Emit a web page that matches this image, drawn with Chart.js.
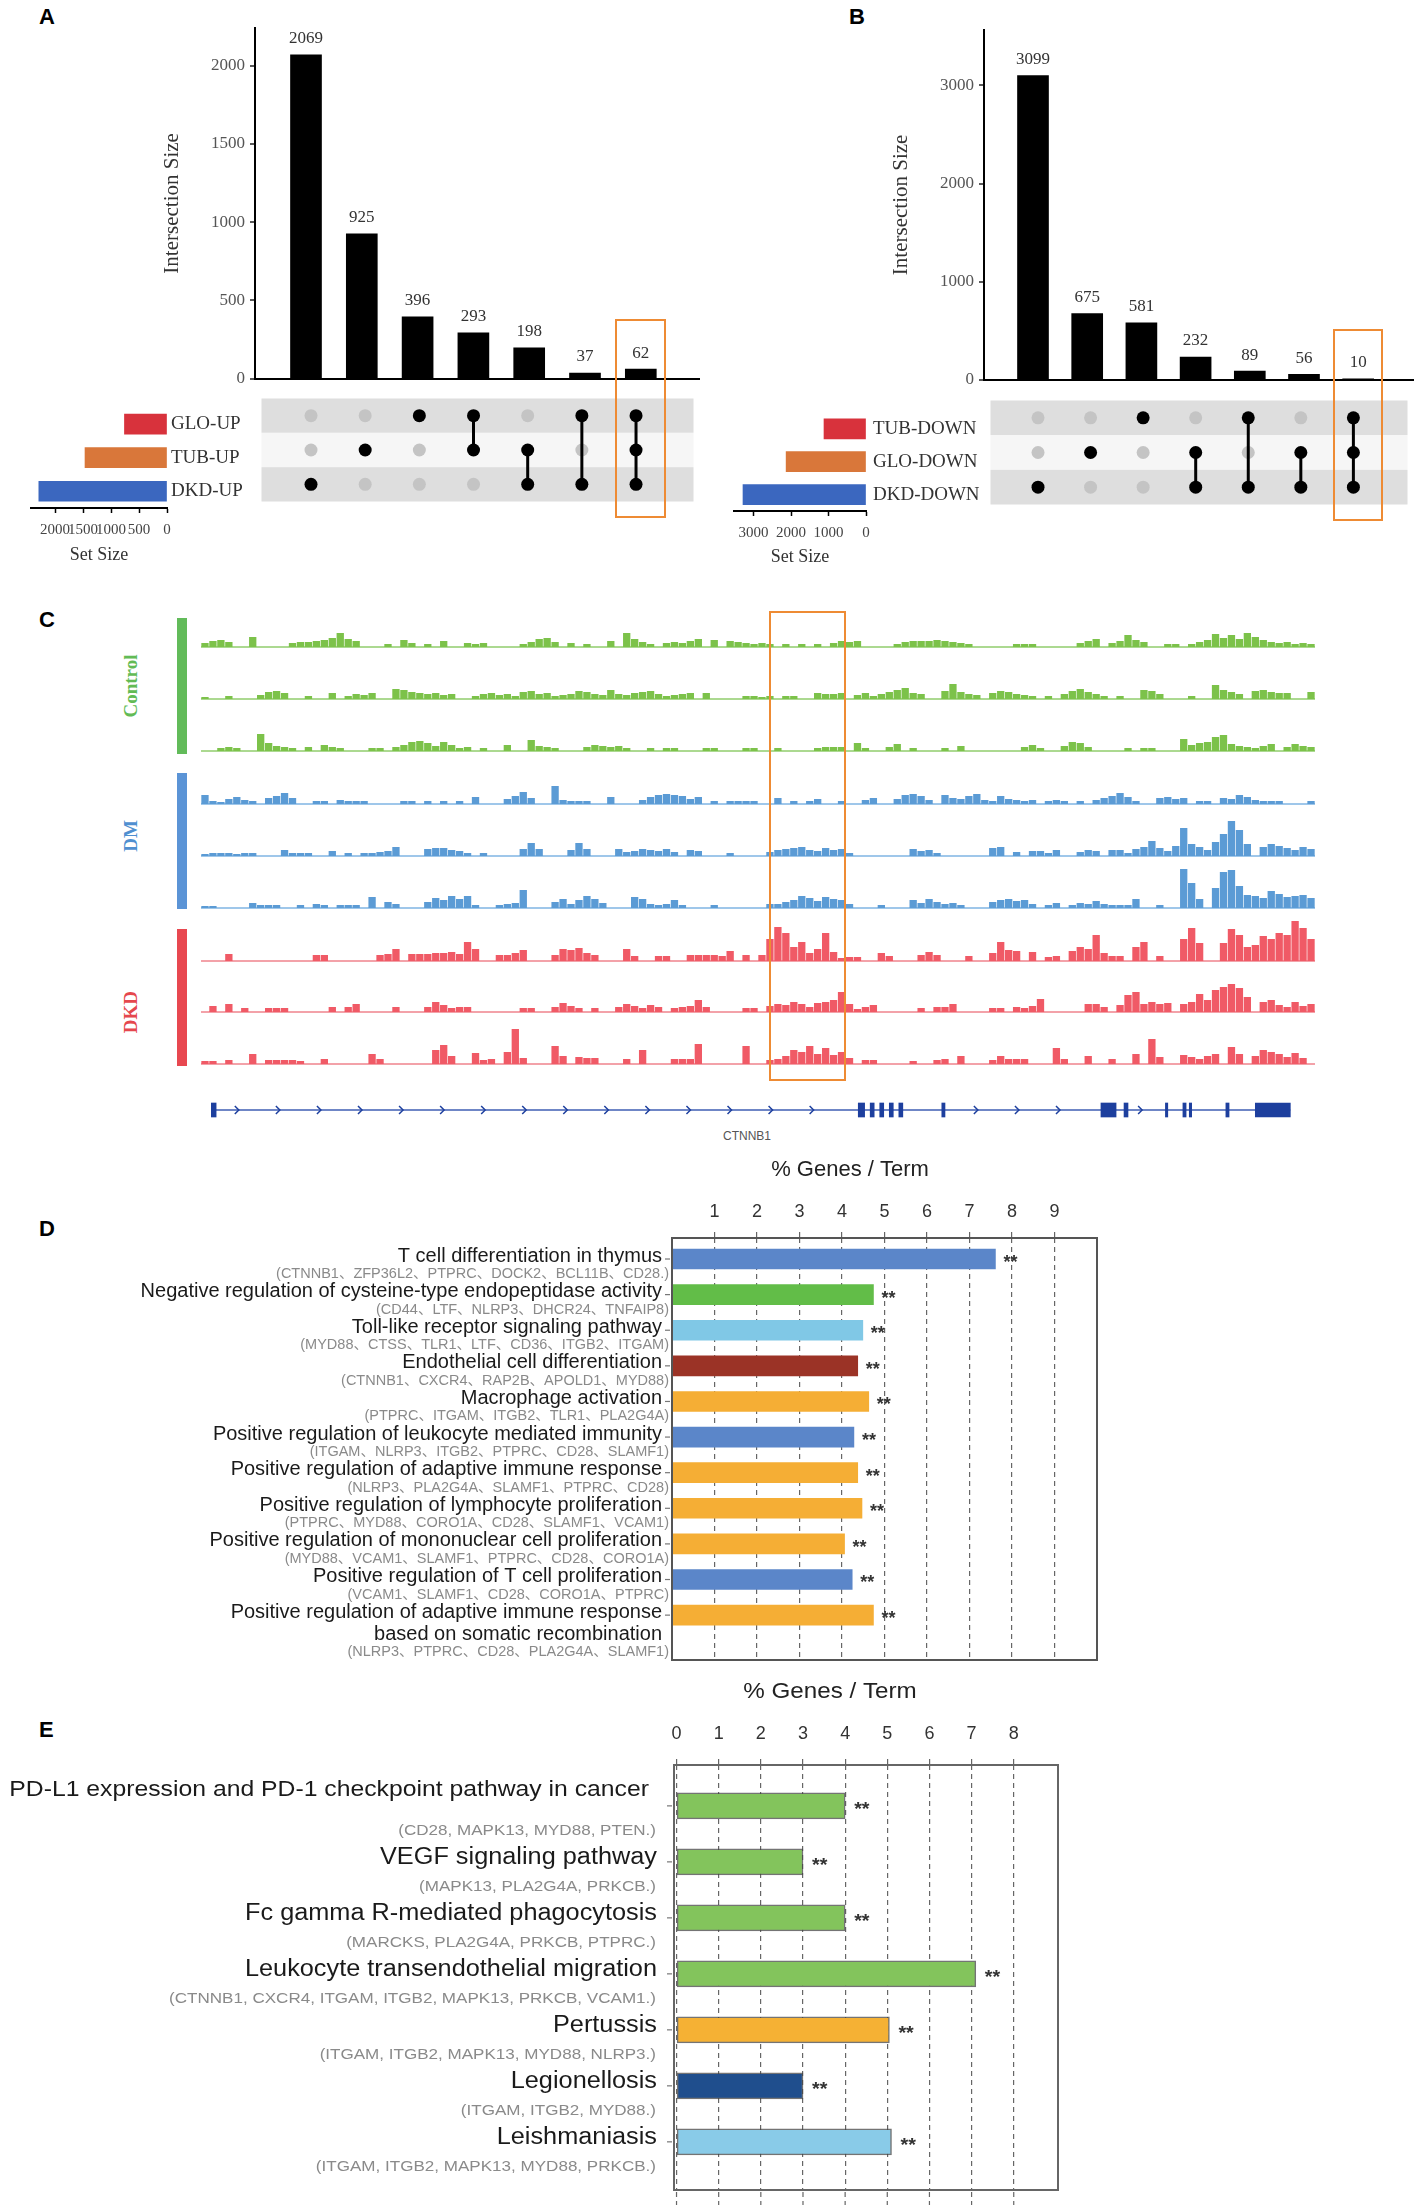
<!DOCTYPE html>
<html lang="en">
<head>
<meta charset="UTF-8" />
<title>UpSet, ATAC tracks and enrichment</title>
<script src="https://cdn.jsdelivr.net/npm/chart.js"></script>
<style>
  html, body { margin: 0; padding: 0; background: #ffffff; }
  body { position: relative; width: 1417px; height: 2205px; overflow: hidden; font-family: "Liberation Sans", Arial, sans-serif; }
  canvas { position: absolute; }
  .letter { position: absolute; font: bold 22px "Liberation Sans", Arial, sans-serif; line-height: 24px; color: #000; }
  .group { position: absolute; width: 140px; height: 26px; line-height: 26px; text-align: center; font: bold 19px "Liberation Serif", serif; transform: rotate(-90deg); }
  .strip { position: absolute; width: 10px; }
  .hl { position: absolute; box-sizing: border-box; border: 2.5px solid #ee8b34; }
  .gene { position: absolute; font-size: 12px; color: #555; }
</style>
</head>
<body>
<div class="letter" style="left:39px; top:5px">A</div>
<div class="letter" style="left:849px; top:5px">B</div>
<div class="letter" style="left:39px; top:608px">C</div>
<div class="letter" style="left:39px; top:1217px">D</div>
<div class="letter" style="left:39px; top:1718px">E</div>

<div class="strip" style="left:177px; top:618px; height:136px; background:#62bb5a"></div>
<div class="strip" style="left:177px; top:773px; height:136px; background:#5b94d6"></div>
<div class="strip" style="left:177px; top:929px; height:137px; background:#e84850"></div>
<div class="group" style="left:63px; top:673px; color:#62bb55">Control</div>
<div class="group" style="left:63px; top:823px; color:#4f8fd0">DM</div>
<div class="group" style="left:63px; top:999px; color:#e5474d">DKD</div>
<div class="gene" style="left:723px; top:1129px">CTNNB1</div>

<script>
// ---------------- data: panel A ----------------
const aIntersect = [2069, 925, 396, 293, 198, 37, 62];
const aSets = ["GLO-UP", "TUB-UP", "DKD-UP"];
const aSetSize = [760, 1465, 2290];
const aMembers = [[2], [1], [0], [0, 1], [1, 2], [0, 2], [0, 1, 2]];
const aBarTicks = [0, 500, 1000, 1500, 2000];
const aSizeTicks = [0, 500, 1000, 1500, 2000];

// ---------------- data: panel B ----------------
const bIntersect = [3099, 675, 581, 232, 89, 56, 10];
const bSets = ["TUB-DOWN", "GLO-DOWN", "DKD-DOWN"];
const bSetSize = [1120, 2130, 3280];
const bMembers = [[2], [1], [0], [1, 2], [0, 2], [1, 2], [0, 1, 2]];
const bBarTicks = [0, 1000, 2000, 3000];
const bSizeTicks = [0, 1000, 2000, 3000];

// ---------------- data: panel C (coverage per bin) ----------------
const ctl1 = [4,6,7,5,0,0,10,0,0,0, 0,4,5,5,6,7,9,14,8,6, 0,0,0,3,0,7,4,0,3,0, 6,0,0,4,3,4,0,0,0,0,
  3,5,8,9,5,0,4,0,3,0, 0,6,0,14,8,5,3,0,4,5, 4,6,8,0,7,0,6,5,4,3, 4,3,0,3,0,3,0,3,0,4,
  6,5,6,0,0,0,0,3,5,6, 6,6,7,6,5,4,3,0,0,0, 0,0,3,3,3,0,0,0,0,0, 4,6,8,0,4,6,12,7,5,0,
  0,3,3,0,3,5,7,13,9,12, 8,14,10,7,5,4,5,3,4,3];
const ctl2 = [2,0,0,3,0,0,0,4,7,8, 6,0,0,3,0,0,6,0,3,5, 4,6,0,0,10,9,7,6,5,6, 4,5,0,0,3,5,6,4,5,3,
  7,8,5,6,3,4,5,8,7,5, 4,9,5,4,6,7,8,5,3,4, 5,6,0,6,0,0,0,0,3,3, 2,3,0,3,3,0,0,6,5,5,
  6,0,4,6,3,5,7,9,11,6, 5,0,0,8,15,7,5,4,0,6, 8,7,5,4,3,0,3,0,5,8, 10,7,5,3,0,3,0,0,9,8,
  5,0,0,0,3,0,0,14,9,7, 5,0,8,9,7,6,6,0,0,7];
const ctl3 = [0,0,3,4,3,0,0,17,8,5, 4,3,0,4,0,6,4,3,0,0, 0,3,3,0,4,6,9,10,8,5, 9,6,3,4,0,3,0,0,6,0,
  0,11,5,4,3,0,0,0,4,6, 5,4,5,3,0,0,3,0,3,3, 0,0,0,3,3,0,0,0,3,3, 0,0,3,0,0,0,0,3,4,4,
  4,0,8,3,0,0,4,7,0,3, 0,0,0,3,0,5,0,0,0,0, 0,0,0,4,6,3,0,0,5,9, 8,4,0,0,0,0,3,0,3,3,
  0,0,0,12,6,8,9,14,16,7, 5,4,3,5,7,0,4,7,5,4];
const dm1 = [9,3,2,5,7,4,3,0,6,8, 11,6,0,0,3,3,0,4,3,3, 3,0,0,0,0,3,3,0,3,0, 3,0,3,0,7,0,0,0,5,8,
  12,6,0,0,18,4,3,3,3,0, 0,7,0,0,0,4,7,9,10,9, 8,5,7,0,3,0,3,3,3,3, 0,0,6,0,3,0,3,5,0,0,
  3,0,0,4,6,0,0,5,9,10, 8,4,0,9,6,5,8,10,4,3, 8,5,4,3,4,0,3,4,3,0, 3,0,4,6,8,11,7,3,0,0,
  6,7,5,6,0,3,3,0,6,5, 9,7,4,3,3,3,0,0,0,3];
const dm2 = [2,3,3,3,2,3,3,0,0,0, 6,3,3,3,0,0,5,0,3,0, 3,3,4,5,9,0,0,0,7,8, 8,6,5,3,0,3,0,0,0,0,
  7,13,7,0,0,0,6,13,7,0, 0,0,7,4,5,7,6,5,7,4, 0,6,5,0,0,0,3,0,0,0, 0,4,6,7,8,9,6,5,8,6,
  7,3,0,0,0,0,0,0,0,7, 5,6,3,0,0,0,0,0,0,8, 9,0,4,0,5,5,3,6,0,0, 4,6,5,0,6,6,3,7,9,15,
  8,5,10,28,12,9,6,14,22,35, 26,12,0,9,12,10,8,6,9,7];
const dm3 = [2,2,0,0,0,0,5,3,3,3, 0,0,3,0,4,3,0,3,3,3, 0,11,0,6,4,0,0,0,6,10, 8,12,9,12,3,0,0,3,4,5,
  18,0,0,0,6,9,4,8,12,9, 5,0,0,0,11,9,4,3,4,8, 3,0,0,0,3,0,0,0,0,0, 0,4,4,6,8,12,10,7,11,9,
  8,4,0,0,0,3,0,0,0,8, 5,9,6,4,5,3,0,0,0,6, 8,9,7,8,4,0,3,5,0,3, 5,4,7,4,3,3,3,9,0,0,
  3,0,0,39,25,9,0,20,36,38, 22,13,12,10,17,14,11,12,13,10];
const dkd1 = [0,0,0,7,0,0,0,0,0,0, 0,0,0,0,6,6,0,0,0,0, 0,0,6,7,12,0,7,7,7,8, 8,9,7,19,12,0,0,6,6,8,
  11,0,0,0,6,12,11,13,8,6, 0,0,0,12,5,0,0,5,5,0, 0,6,6,6,6,5,10,0,6,0, 6,22,34,28,14,19,8,12,28,9,
  3,4,4,0,0,8,5,0,0,0, 6,9,6,0,0,0,5,0,0,8, 19,11,10,0,9,0,4,5,0,10, 14,12,26,8,5,5,0,14,19,0,
  5,0,0,22,33,18,0,0,18,32, 26,14,16,25,22,28,26,40,33,22];
const dkd2 = [0,6,0,8,0,4,0,0,4,4, 4,0,0,0,0,0,5,0,5,8, 0,0,0,0,5,0,0,0,5,10, 7,4,5,5,0,0,0,0,0,0,
  4,4,0,0,5,9,6,4,0,4, 0,0,5,8,6,4,7,5,0,4, 5,6,12,5,0,0,0,0,4,4, 0,6,8,7,10,8,5,9,10,12,
  20,8,3,5,7,0,0,0,0,0, 4,0,5,5,8,0,0,0,0,4, 4,0,5,4,6,13,0,0,0,0, 0,8,8,5,0,7,17,20,8,10,
  8,9,0,8,10,18,12,22,25,28, 24,15,0,10,12,7,5,10,6,8];
const dkd3 = [3,3,0,4,0,0,10,0,4,4, 4,4,3,0,0,5,0,0,0,0, 0,10,5,0,0,0,0,0,0,14, 19,8,0,0,11,4,5,0,12,35,
  6,0,0,0,18,8,0,7,6,6, 0,0,0,5,0,14,0,0,0,5, 5,5,20,0,0,0,0,0,18,0, 0,4,5,8,14,12,18,10,16,9,
  12,6,0,4,4,0,0,0,0,3, 0,0,4,5,0,8,0,0,0,4, 8,5,5,5,0,0,0,16,5,0, 0,8,0,0,5,0,0,10,0,25,
  7,0,0,9,7,5,8,10,0,17, 10,0,8,14,12,10,7,11,6,0];
const cHighlight = [71.4, 81.05];          // highlighted region, in bin units
const geneSpan = [1.5, 136.9];             // CTNNB1 extent, in bin units
const geneExons = [[1.3, 1.9], [82.6, 83.4], [84.1, 84.6], [85.3, 85.8], [86.5, 87.0], [87.7, 88.2],
  [93.1, 93.5], [113.1, 115.0], [116.0, 116.5], [121.2, 121.5], [123.4, 123.8], [124.2, 124.5],
  [128.8, 129.2], [132.5, 136.9]];

// ---------------- data: panel D ----------------
const dTerms = ["T cell differentiation in thymus", "Negative regulation of cysteine-type endopeptidase activity",
  "Toll-like receptor signaling pathway", "Endothelial cell differentiation", "Macrophage activation",
  "Positive regulation of leukocyte mediated immunity", "Positive regulation of adaptive immune response",
  "Positive regulation of lymphocyte proliferation", "Positive regulation of mononuclear cell proliferation",
  "Positive regulation of T cell proliferation",
  ["Positive regulation of adaptive immune response", "based on somatic recombination"]];
const dGenes = ["(CTNNB1、ZFP36L2、PTPRC、DOCK2、BCL11B、CD28.)", "(CD44、LTF、NLRP3、DHCR24、TNFAIP8)",
  "(MYD88、CTSS、TLR1、LTF、CD36、ITGB2、ITGAM)", "(CTNNB1、CXCR4、RAP2B、APOLD1、MYD88)",
  "(PTPRC、ITGAM、ITGB2、TLR1、PLA2G4A)", "(ITGAM、NLRP3、ITGB2、PTPRC、CD28、SLAMF1)",
  "(NLRP3、PLA2G4A、SLAMF1、PTPRC、CD28)", "(PTPRC、MYD88、CORO1A、CD28、SLAMF1、VCAM1)",
  "(MYD88、VCAM1、SLAMF1、PTPRC、CD28、CORO1A)", "(VCAM1、SLAMF1、CD28、CORO1A、PTPRC)",
  "(NLRP3、PTPRC、CD28、PLA2G4A、SLAMF1)"];
const dValues = [7.61, 4.74, 4.49, 4.37, 4.63, 4.28, 4.37, 4.47, 4.06, 4.24, 4.74];
const dTicks = [1, 2, 3, 4, 5, 6, 7, 8, 9];

// ---------------- data: panel E ----------------
const eTerms = ["PD-L1 expression and PD-1 checkpoint pathway in cancer", "VEGF signaling pathway",
  "Fc gamma R-mediated phagocytosis", "Leukocyte transendothelial migration", "Pertussis",
  "Legionellosis", "Leishmaniasis"];
const eGenes = ["(CD28, MAPK13, MYD88, PTEN.)", "(MAPK13, PLA2G4A, PRKCB.)", "(MARCKS, PLA2G4A, PRKCB, PTPRC.)",
  "(CTNNB1, CXCR4, ITGAM, ITGB2, MAPK13, PRKCB, VCAM1.)", "(ITGAM, ITGB2, MAPK13, MYD88, NLRP3.)",
  "(ITGAM, ITGB2, MYD88.)", "(ITGAM, ITGB2, MAPK13, MYD88, PRKCB.)"];
const eValues = [4.0, 3.0, 4.0, 7.1, 5.05, 3.0, 5.1];
const eTicks = [0, 1, 2, 3, 4, 5, 6, 7, 8];

// ---------------- styles ----------------
const SERIF = '"Liberation Serif", "Times New Roman", serif';
const SANS = '"Liberation Sans", Arial, "Noto Sans CJK SC", sans-serif';
const setColors = ["#d8323c", "#d9773a", "#3b67bf"];
const dColors = ["#5b86c9", "#62bd48", "#80c8e6", "#9b3326", "#f5ae35", "#5b86c9", "#f5ae35", "#f5ae35", "#f5ae35", "#5b86c9", "#f5ae35"];
const eColors = ["#83c45c", "#83c45c", "#83c45c", "#83c45c", "#f5b134", "#1f4e8d", "#89cbe8"];

Chart.defaults.animation = false;
Chart.defaults.responsive = false;
Chart.defaults.plugins.legend.display = false;
Chart.defaults.plugins.tooltip.enabled = false;
Chart.defaults.font.family = SANS;

const plain = (v) => String(v);

function canvasAt(left, top, width, height) {
  const c = document.createElement("canvas");
  c.width = width;
  c.height = height;
  c.style.left = left + "px";
  c.style.top = top + "px";
  c.style.width = width + "px";
  c.style.height = height + "px";
  document.body.appendChild(c);
  return c;
}

function highlight(left, top, width, height) {
  const d = document.createElement("div");
  d.className = "hl";
  d.style.left = left + "px";
  d.style.top = top + "px";
  d.style.width = width + "px";
  d.style.height = height + "px";
  document.body.appendChild(d);
}

// counts above upset bars
const barValues = {
  id: "barValues",
  afterDatasetsDraw(chart) {
    const ctx = chart.ctx;
    const ds = chart.data.datasets[0];
    ctx.save();
    ctx.font = "17px " + SERIF;
    ctx.fillStyle = "#333";
    ctx.textAlign = "center";
    ctx.textBaseline = "middle";
    chart.getDatasetMeta(0).data.forEach((bar, i) => ctx.fillText(String(ds.data[i].y), bar.x, bar.y - 16));
    ctx.restore();
  }
};

// grey / white stripes behind the matrix rows
const rowBands = {
  id: "rowBands",
  beforeDatasetsDraw(chart) {
    const { ctx, chartArea: a, scales: { y } } = chart;
    ctx.save();
    for (let r = 0; r <= Math.round(y.max - 0.5); r++) {
      const t = y.getPixelForValue(r - 0.5), b = y.getPixelForValue(r + 0.5);
      ctx.fillStyle = r % 2 === 0 ? "#dedede" : "#f6f6f6";
      ctx.fillRect(a.left, Math.min(t, b), a.right - a.left, Math.abs(b - t));
    }
    ctx.restore();
  }
};

function drawUpset(counts, sets, sizes, members, barTicks, sizeTicks, g) {
  const last = counts.length - 1;
  const xMin = -(g.col0 - g.axisX) / g.colStep;
  const xMax = last + (g.right - g.col0 - last * g.colStep) / g.colStep;

  // intersection bars
  const barsTop = g.top - 18;
  const bars = new Chart(canvasAt(g.barsLeft, barsTop, g.right + 6 - g.barsLeft, g.base + 4 - barsTop), {
    type: "bar",
    data: { datasets: [{ data: counts.map((v, i) => ({ x: i, y: v })), backgroundColor: "#000", barThickness: 31 }] },
    options: {
      layout: { padding: { left: 0, top: 18, right: 6, bottom: 4 } },
      scales: {
        x: { type: "linear", min: xMin, max: xMax, offset: false, display: false },
        y: {
          min: 0, max: g.yMax,
          afterFit: (s) => { s.width = g.axisX - g.barsLeft; },
          afterBuildTicks: (s) => { s.ticks = barTicks.map((v) => ({ value: v })); },
          ticks: { font: { family: SERIF, size: 17 }, color: "#555", padding: 5, callback: plain },
          grid: {
            color: (c) => (c.tick && c.tick.value === 0 ? "#000" : "rgba(0,0,0,0)"),
            lineWidth: 2, tickColor: "#222", tickLength: 5, tickWidth: 1.5
          },
          border: { color: "#000", width: 2 },
          title: {
            display: true, text: "Intersection Size", color: "#333",
            font: { family: SERIF, size: 21 },
            padding: { top: g.titleX - g.barsLeft - 12.6, bottom: 0 }
          }
        }
      }
    },
    plugins: [barValues]
  });

  // membership matrix
  const on = [], off = [], links = [];
  members.forEach((m, c) => {
    sets.forEach((_, r) => (m.includes(r) ? on : off).push({ x: c, y: r }));
    if (m.length > 1) {
      links.push({
        data: [{ x: c, y: Math.min(...m) }, { x: c, y: Math.max(...m) }],
        showLine: true, borderColor: "#000", borderWidth: 3, pointRadius: 0
      });
    }
  });
  new Chart(canvasAt(g.axisX, g.mTop, g.right - g.axisX, g.mBottom - g.mTop), {
    type: "scatter",
    data: {
      datasets: [
        { data: on, pointRadius: 6.5, backgroundColor: "#000", borderColor: "#000", borderWidth: 0 },
        ...links,
        { data: off, pointRadius: 6.5, backgroundColor: "#c4c4c4", borderColor: "#c4c4c4", borderWidth: 0 }
      ]
    },
    options: {
      layout: { padding: 0 },
      scales: {
        x: { type: "linear", min: xMin, max: xMax, display: false },
        y: { type: "linear", min: -0.5, max: sets.length - 0.5, reverse: true, display: false }
      }
    },
    plugins: [rowBands]
  });

  // set sizes
  const sLeft = g.setLeft - 12;
  const sH = 180;
  new Chart(canvasAt(sLeft, g.mTop, g.axisX - sLeft, sH), {
    type: "bar",
    data: { labels: sets, datasets: [{ data: sizes, backgroundColor: setColors, barThickness: 20 }] },
    options: {
      indexAxis: "y",
      layout: { padding: { left: 12, top: 0, right: 0, bottom: 0 } },
      scales: {
        x: {
          min: 0, max: g.setMax, reverse: true,
          afterFit: (s) => { s.height = sH - (g.mBottom - g.mTop); },
          afterBuildTicks: (s) => { s.ticks = sizeTicks.map((v) => ({ value: v })); },
          ticks: { font: { family: SERIF, size: 15 }, color: "#444", padding: 8, autoSkip: false, maxRotation: 0, callback: plain },
          grid: { drawOnChartArea: false, tickLength: 5, tickColor: "#000", tickWidth: 1.5 },
          border: { color: "#000", width: 2 },
          title: { display: true, text: "Set Size", color: "#333", font: { family: SERIF, size: 18 }, padding: { top: 0, bottom: 6 } }
        },
        y: {
          position: "right",
          afterFit: (s) => { s.width = g.axisX - g.setRight; },
          grid: { display: false, drawTicks: false },
          border: { display: false },
          ticks: { font: { family: SERIF, size: 19 }, color: "#333", padding: g.labelPad }
        }
      }
    }
  });

  // orange frame round the last intersection
  const xs = bars.scales.x;
  const unit = xs.getPixelForValue(1) - xs.getPixelForValue(0);
  const cx = xs.getPixelForValue(last) + g.barsLeft;
  const top = bars.scales.y.getPixelForValue(counts[last]) + barsTop - 50;
  highlight(cx - 0.46 * unit, top, 0.92 * unit, g.mBottom + 10 - top);
}

drawUpset(aIntersect, aSets, aSetSize, aMembers, aBarTicks, aSizeTicks, {
  barsLeft: 140, axisX: 255, right: 700, top: 28, base: 390, col0: 306, colStep: 55.8,
  yMax: 2240, titleX: 172, mTop: 392, mBottom: 508, setLeft: 31, setRight: 167, setMax: 2430, labelPad: 4
});
drawUpset(bIntersect, bSets, bSetSize, bMembers, bBarTicks, bSizeTicks, {
  barsLeft: 865, axisX: 984, right: 1414, top: 30, base: 391, col0: 1033, colStep: 54.2,
  yMax: 3564, titleX: 901, mTop: 394, mBottom: 511, setLeft: 734, setRight: 866, setMax: 3520, labelPad: 7
});

// ---------------- panel C ----------------
const trackLeft = 201, trackWidth = 1114, trackMax = 48;
const cTracks = [ctl1, ctl2, ctl3, dm1, dm2, dm3, dkd1, dkd2, dkd3];
const cBase = [647, 699, 751, 804, 856, 908, 961, 1012, 1064];
const cFill = ["#7cc24a", "#7cc24a", "#7cc24a", "#5b9bd5", "#5b9bd5", "#5b9bd5", "#f05a66", "#f05a66", "#f05a66"];
const cLine = ["#acd991", "#acd991", "#acd991", "#9fc7ea", "#9fc7ea", "#9fc7ea", "#f3a2a9", "#f3a2a9", "#f3a2a9"];

const trackCharts = cTracks.map((vals, k) => new Chart(canvasAt(trackLeft, cBase[k] - trackMax, trackWidth, trackMax + 3), {
  type: "bar",
  data: { labels: vals.map((_, i) => i), datasets: [{ data: vals, backgroundColor: cFill[k], categoryPercentage: 1, barPercentage: 0.92 }] },
  options: {
    layout: { padding: { left: 0, right: 0, top: 0, bottom: 3 } },
    scales: { x: { display: false }, y: { display: false, min: 0, max: trackMax } }
  },
  plugins: [{
    id: "baseline",
    beforeDatasetsDraw(chart) {
      const { ctx, chartArea: a, scales: { y } } = chart;
      const py = y.getPixelForValue(0);
      ctx.save();
      ctx.strokeStyle = cLine[k];
      ctx.lineWidth = 2;
      ctx.beginPath();
      ctx.moveTo(a.left, py);
      ctx.lineTo(a.right, py);
      ctx.stroke();
      ctx.restore();
    }
  }]
}));

// gene model
new Chart(canvasAt(trackLeft, 1100, trackWidth, 20), {
  type: "bar",
  data: { labels: ["CTNNB1"], datasets: [{ data: geneExons.map((e) => ({ x: e, y: "CTNNB1" })), backgroundColor: "#1d3f9e", barThickness: 14 }] },
  options: {
    indexAxis: "y",
    layout: { padding: 0 },
    scales: { x: { type: "linear", min: 0, max: cTracks[0].length, display: false }, y: { display: false } }
  },
  plugins: [{
    id: "intron",
    beforeDatasetsDraw(chart) {
      const { ctx, scales: { x, y } } = chart;
      const py = y.getPixelForValue(0);
      ctx.save();
      ctx.strokeStyle = "#6f86c6";
      ctx.lineWidth = 2;
      ctx.beginPath();
      ctx.moveTo(x.getPixelForValue(geneSpan[0]), py);
      ctx.lineTo(x.getPixelForValue(geneSpan[1]), py);
      ctx.stroke();
      ctx.strokeStyle = "#1d3f9e";
      ctx.lineWidth = 1.5;
      for (let p = geneSpan[0] + 3; p < geneSpan[1]; p += 5.16) {
        if (geneExons.some((e) => p > e[0] - 1 && p < e[1] + 1)) continue;
        const px = x.getPixelForValue(p);
        ctx.beginPath();
        ctx.moveTo(px - 2, py - 4);
        ctx.lineTo(px + 2, py);
        ctx.lineTo(px - 2, py + 4);
        ctx.stroke();
      }
      ctx.restore();
    }
  }]
});

{
  const xs = trackCharts[0].scales.x;
  const binW = xs.getPixelForValue(1) - xs.getPixelForValue(0);
  const edge = (v) => trackLeft + xs.getPixelForValue(0) - binW / 2 + v * binW;
  highlight(edge(cHighlight[0]), cBase[0] - 36, edge(cHighlight[1]) - edge(cHighlight[0]), cBase[8] + 17 - (cBase[0] - 36));
}

// ---------------- panels D and E ----------------
function wideText(ctx, s, x, y, align, font, sx) {
  ctx.save();
  ctx.font = font;
  ctx.textAlign = align;
  ctx.textBaseline = "middle";
  ctx.translate(x, y);
  ctx.scale(sx, 1);
  ctx.fillText(s, 0, 0);
  ctx.restore();
}

function drawEnrich(o) {
  return new Chart(canvasAt(0, o.top, o.width, o.height), {
    type: "bar",
    data: {
      datasets: [{
        data: o.values.map((v, i) => ({ x: v, y: i })),
        backgroundColor: o.colors, borderColor: o.edge, borderWidth: o.edgeW, borderSkipped: false,
        barThickness: o.thick
      }]
    },
    options: {
      indexAxis: "y",
      layout: { padding: { left: o.left, right: o.padRight, top: 0, bottom: o.padBottom } },
      scales: {
        x: {
          type: "linear", position: "top", min: o.xMin, max: o.xMax,
          afterFit: (s) => { s.height = o.axisH; },
          afterBuildTicks: (s) => { s.ticks = o.ticks.map((v) => ({ value: v })); },
          ticks: { font: { size: 18 }, color: "#333", padding: o.tickPad, autoSkip: false, maxRotation: 0, callback: plain },
          grid: { color: "#666", lineWidth: 1.2, tickLength: 6, tickColor: "#666", tickWidth: 1.2 },
          border: { display: false, dash: [5, 4] }
        },
        y: { type: "linear", display: false, offset: false, reverse: true, min: o.yMin, max: o.yMax }
      }
    },
    plugins: [{
      id: "enrichText",
      afterDraw(chart) {
        const { ctx, chartArea: a, scales: { x, y } } = chart;
        ctx.save();
        ctx.strokeStyle = o.frame;
        ctx.lineWidth = 2;
        ctx.strokeRect(a.left, a.top, a.right - a.left, a.bottom - a.top);
        if (o.tail) {
          ctx.strokeStyle = "#666";
          ctx.lineWidth = 1.2;
          ctx.setLineDash([5, 4]);
          o.ticks.forEach((v) => {
            const px = x.getPixelForValue(v);
            ctx.beginPath();
            ctx.moveTo(px, a.bottom + 2);
            ctx.lineTo(px, chart.height);
            ctx.stroke();
          });
          ctx.setLineDash([]);
        }
        ctx.fillStyle = "#222";
        wideText(ctx, "% Genes / Term", o.titleX, o.titleY, "center", "22px " + SANS, o.sx);
        o.terms.forEach((term, i) => {
          const py = y.getPixelForValue(i);
          const lines = Array.isArray(term) ? term : [term];
          ctx.font = o.labelFont;
          const wide = ctx.measureText(lines[0]).width * o.sx > 600;
          const font = wide ? o.wideFont : o.labelFont;
          const lift = wide ? 12 : 0;
          const right = o.labelRight - (wide ? 8 : 0);
          ctx.fillStyle = "#1a1a1a";
          lines.forEach((ln, k) => wideText(ctx, ln, right, py + o.labelDy - lift + k * o.lineGap, "right", font, o.sx));
          ctx.fillStyle = "#8a8a8a";
          wideText(ctx, o.genes[i], o.geneRight, py + o.geneDy + (lines.length - 1) * o.lineGap, "right", o.geneFont, o.sx);
          ctx.strokeStyle = "#777";
          ctx.lineWidth = 1.2;
          ctx.beginPath();
          ctx.moveTo(a.left - 7, py);
          ctx.lineTo(a.left - 2, py);
          ctx.stroke();
        });
        ctx.fillStyle = "#333";
        chart.getDatasetMeta(0).data.forEach((bar) => wideText(ctx, "**", bar.x + o.starGap, bar.y + 4, "left", "bold 18px " + SANS, o.sx));
        ctx.restore();
      }
    }]
  });
}

drawEnrich({
  top: 1150, width: 1117, height: 520, left: 672, padRight: 20, padBottom: 10, axisH: 88, tickPad: 9,
  xMin: 0, xMax: 10, yMin: -0.59, yMax: 11.26, ticks: dTicks, values: dValues, colors: dColors,
  edge: "rgba(0,0,0,0)", edgeW: 0, thick: 20, frame: "#555", tail: false,
  terms: dTerms, genes: dGenes, sx: 1,
  titleX: 850, titleY: 20, labelFont: "20px " + SANS, wideFont: "20px " + SANS, geneFont: "14.5px " + SANS,
  labelRight: 662, labelDy: -3, geneRight: 669, geneDy: 15, lineGap: 22, starGap: 8
});

drawEnrich({
  top: 1670, width: 1070, height: 535, left: 674, padRight: 12, padBottom: 15, axisH: 95, tickPad: 14,
  xMin: -0.06, xMax: 9.05, yMin: -0.73, yMax: 6.86, ticks: eTicks, values: eValues, colors: eColors,
  edge: "rgba(70,70,70,0.75)", edgeW: 1.5, thick: 26, frame: "#666", tail: true,
  terms: eTerms, genes: eGenes, sx: 1.1,
  titleX: 830, titleY: 22, labelFont: "23px " + SANS, wideFont: "22.5px " + SANS, geneFont: "15.5px " + SANS,
  labelRight: 657, labelDy: -4, geneRight: 656, geneDy: 25, lineGap: 24, starGap: 9
});
</script>
</body>
</html>
